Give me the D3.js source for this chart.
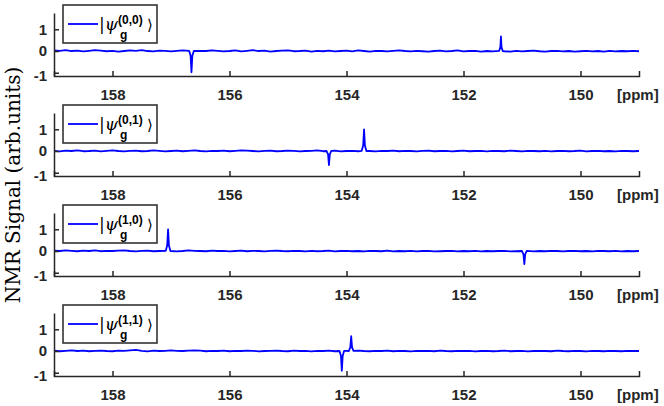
<!DOCTYPE html>
<html>
<head>
<meta charset="utf-8">
<script src="https://cdn.jsdelivr.net/npm/d3@7"></script>
<style>
  body { margin: 0; background: #fff; }
  svg { display: block; }
</style>
</head>
<body>
<div id="chart"></div>
<script>
// tick values and legend labels
const ppmTicks = [158, 156, 154, 152, 150];
const signalTicks = [-1, 0, 1];
const stateLabels = ["(0,0)", "(0,1)", "(1,0)", "(1,1)"];

// baseline readings, one every 0.1 ppm from 159 down to 149
const baseline00 = [0.03,0.01,0.04,0.00,0.02,-0.02,0.01,0.04,0.02,-0.01,
  0.01,-0.03,0.00,0.03,0.01,0.04,0.00,-0.02,0.02,0.01,
  -0.02,0.01,0.03,-0.01,-0.03,0.01,0.00,0.03,0.01,-0.02,
  0.00,0.03,-0.02,0.01,0.04,0.00,0.02,-0.03,0.00,0.02,
  0.03,-0.01,0.00,0.02,-0.03,0.01,-0.01,0.02,-0.02,0.00,
  0.02,-0.02,0.03,0.00,-0.03,0.01,0.00,-0.02,0.01,0.03,
  0.00,-0.02,0.01,-0.01,-0.03,0.00,0.02,-0.02,0.00,0.03,
  -0.02,0.00,0.01,-0.03,0.00,-0.02,0.01,-0.01,-0.03,0.01,
  -0.02,0.00,0.02,-0.01,-0.03,0.00,0.01,-0.02,0.00,-0.03,
  -0.01,0.01,-0.02,0.00,-0.03,0.01,-0.02,0.00,-0.01,0.01,
  -0.01];
const baseline01 = [0.01,-0.02,0.02,0.00,0.03,-0.01,0.00,0.02,-0.02,0.01,
  0.03,0.00,-0.02,0.01,0.02,-0.01,0.00,0.03,0.01,-0.02,
  0.00,0.02,-0.01,0.01,0.03,0.00,-0.02,0.01,0.00,0.02,
  -0.01,0.01,0.03,0.02,0.00,-0.02,0.01,0.02,-0.01,0.00,
  0.02,0.01,-0.02,0.00,0.01,0.03,-0.01,0.00,0.02,-0.02,
  0.00,0.01,-0.01,0.02,0.00,-0.02,0.01,0.00,0.02,-0.01,
  0.01,0.00,-0.02,0.01,0.02,-0.01,0.00,0.01,-0.02,0.00,
  0.02,-0.01,0.00,0.01,-0.02,0.01,0.00,-0.01,0.02,0.00,
  -0.02,0.01,0.00,-0.01,0.01,-0.02,0.00,0.01,-0.01,0.00,
  0.02,-0.02,0.00,0.01,-0.01,0.00,-0.02,0.01,0.00,-0.01,
  0.00];
const baseline10 = [0.02,0.00,0.03,0.01,-0.01,0.02,0.00,0.03,-0.01,0.01,
  0.00,0.02,0.03,0.00,-0.02,0.01,0.02,-0.01,0.00,0.02,
  0.01,-0.02,0.00,0.03,0.01,0.00,-0.01,0.02,0.00,0.01,
  -0.02,0.00,0.02,-0.01,0.01,0.00,-0.02,0.01,0.02,0.00,
  -0.01,0.01,0.00,-0.02,0.01,-0.01,0.00,0.02,-0.02,0.00,
  0.01,-0.01,0.00,-0.02,0.01,0.00,-0.01,0.02,-0.02,0.00,
  -0.01,0.01,-0.02,0.00,0.01,-0.02,-0.01,0.00,0.01,-0.02,
  0.00,-0.01,0.01,-0.02,0.00,-0.01,0.00,0.01,-0.02,-0.01,
  0.00,0.01,-0.02,0.00,-0.01,0.01,0.00,-0.02,0.00,0.01,
  -0.01,0.00,-0.02,0.01,0.00,-0.01,0.01,-0.02,0.00,-0.01,
  0.00];
const baseline11 = [0.02,-0.01,0.01,0.03,0.00,0.02,-0.01,0.01,0.02,0.00,
  -0.01,0.02,0.01,0.03,0.05,0.01,-0.02,0.02,0.00,0.01,
  0.03,0.01,0.00,0.02,0.03,0.02,-0.01,0.01,0.00,0.02,
  -0.01,0.01,0.00,0.02,0.01,-0.02,0.00,0.01,0.02,0.00,
  -0.01,0.02,0.00,0.01,-0.02,0.01,0.00,0.02,-0.01,0.00,
  0.01,-0.01,0.02,0.00,-0.01,0.01,0.00,0.02,-0.01,0.01,
  0.00,-0.02,0.01,0.00,0.01,-0.01,0.02,0.00,-0.01,0.01,
  0.00,0.01,-0.02,0.00,0.01,-0.01,0.00,0.02,-0.01,0.00,
  0.01,-0.02,0.00,0.01,0.00,-0.01,0.02,0.00,-0.01,0.01,
  0.00,-0.02,0.01,0.00,-0.01,0.01,0.00,-0.01,0.01,0.00,
  0.00];

// resonance lines, [ppm, signal]
const peaks00 = [[156.69,0.01],[156.665,-0.22],[156.65,-0.98],[156.635,-0.22],[156.61,0.00],
  [151.39,0.01],[151.37,0.18],[151.36,0.67],[151.35,0.18],[151.33,0.00]];
const peaks01 = [[154.34,0.00],[154.315,-0.15],[154.30,-0.65],[154.285,-0.15],[154.26,0.01],
  [153.74,0.01],[153.715,0.25],[153.70,0.99],[153.685,0.25],[153.66,0.00]];
const peaks10 = [[157.09,0.01],[157.065,0.25],[157.05,1.00],[157.035,0.25],[157.01,0.00],
  [151.00,0.00],[150.975,-0.15],[150.96,-0.60],[150.945,-0.15],[150.92,0.01]];
const peaks11 = [[154.12,0.00],[154.095,-0.22],[154.08,-0.91],[154.065,-0.22],[154.04,0.01],
  [153.96,0.00],[153.935,0.17],[153.92,0.68],[153.905,0.17],[153.88,0.01]];

const baselines = [baseline00, baseline01, baseline10, baseline11];
const peaks = [peaks00, peaks01, peaks10, peaks11];
const ppmGrid = baseline00.map((_, i) => +(159 - i * 0.1).toFixed(2));

const width = 664, height = 406;
const axisColor = "#262626";
const tickFont = "bold 15px 'Liberation Sans', Arial, sans-serif";

const svg = d3.select("#chart").append("svg")
  .attr("width", width)
  .attr("height", height);

const x = d3.scaleLinear().domain([159, 149]).range([54, 639]);
const y = d3.scaleLinear().domain([-1.15, 1.75]).range([63, 0]);

const line = d3.line()
  .x(d => x(d[0]))
  .y(d => y(d[1]));

// one spectrum per panel
baselines.forEach((base, i) => {
  const g = svg.append("g").attr("transform", `translate(0,${13 + 100 * i})`);

  const pts = ppmGrid.map((p, j) => [p, base[j]])
    .filter(d => !peaks[i].some(s => Math.abs(s[0] - d[0]) < 0.02))
    .concat(peaks[i])
    .sort((a, b) => b[0] - a[0]);

  g.append("path")
    .datum(pts)
    .attr("fill", "none")
    .attr("stroke", "#0000ff")
    .attr("stroke-width", 1.8)
    .attr("stroke-linejoin", "round")
    .attr("d", line);

  const xAxis = g.append("g")
    .attr("transform", "translate(0,63)")
    .call(d3.axisBottom(x).tickValues(ppmTicks).tickSize(-5).tickSizeOuter(-5).tickPadding(13));

  const yAxis = g.append("g")
    .attr("transform", "translate(54,0)")
    .call(d3.axisLeft(y).tickValues(signalTicks).tickSize(-5).tickSizeOuter(0).tickPadding(7)
      .tickFormat(d => String(d)));

  [xAxis, yAxis].forEach(a => {
    a.select(".domain").attr("stroke", axisColor).attr("stroke-width", 1.5);
    a.selectAll(".tick line").attr("stroke", axisColor).attr("stroke-width", 1.5);
    a.selectAll(".tick text").attr("fill", axisColor).style("font", tickFont);
  });
  // the -1 label sits on the axis corner
  yAxis.selectAll(".tick text").filter(d => d === -1).attr("dy", "0.55em");

  g.append("text")
    .attr("x", 617)
    .attr("y", 87)
    .attr("fill", axisColor)
    .style("font", tickFont)
    .text("[ppm]");

  // legend
  const lg = g.append("g").attr("transform", "translate(63,-8)");
  lg.append("rect")
    .attr("width", 94).attr("height", 38)
    .attr("fill", "#fff")
    .attr("stroke", axisColor)
    .attr("stroke-width", 1.5);
  lg.append("line")
    .attr("x1", 5).attr("x2", 35).attr("y1", 19).attr("y2", 19)
    .attr("stroke", "#0000ff").attr("stroke-width", 1.8);
  const ket = lg.append("text")
    .attr("x", 36).attr("y", 25)
    .attr("fill", "#000")
    .style("font", "17px 'DejaVu Serif', serif");
  ket.append("tspan").text("|");
  ket.append("tspan").attr("font-style", "italic").text("ψ");
  lg.append("text")
    .attr("x", 55).attr("y", 19)
    .style("font", "bold 12px 'Liberation Sans', Arial, sans-serif")
    .text(stateLabels[i]);
  lg.append("text")
    .attr("x", 57).attr("y", 34)
    .style("font", "bold 12px 'Liberation Sans', Arial, sans-serif")
    .text("g");
  lg.append("text")
    .attr("x", 84).attr("y", 25)
    .style("font", "15px 'DejaVu Sans', sans-serif")
    .text("⟩");
});

svg.append("text")
  .attr("transform", "translate(20,185) rotate(-90)")
  .attr("text-anchor", "middle")
  .attr("fill", "#000")
  .style("font", "20px 'DejaVu Serif', serif")
  .text("NMR Signal (arb.units)");
</script>
</body>
</html>
